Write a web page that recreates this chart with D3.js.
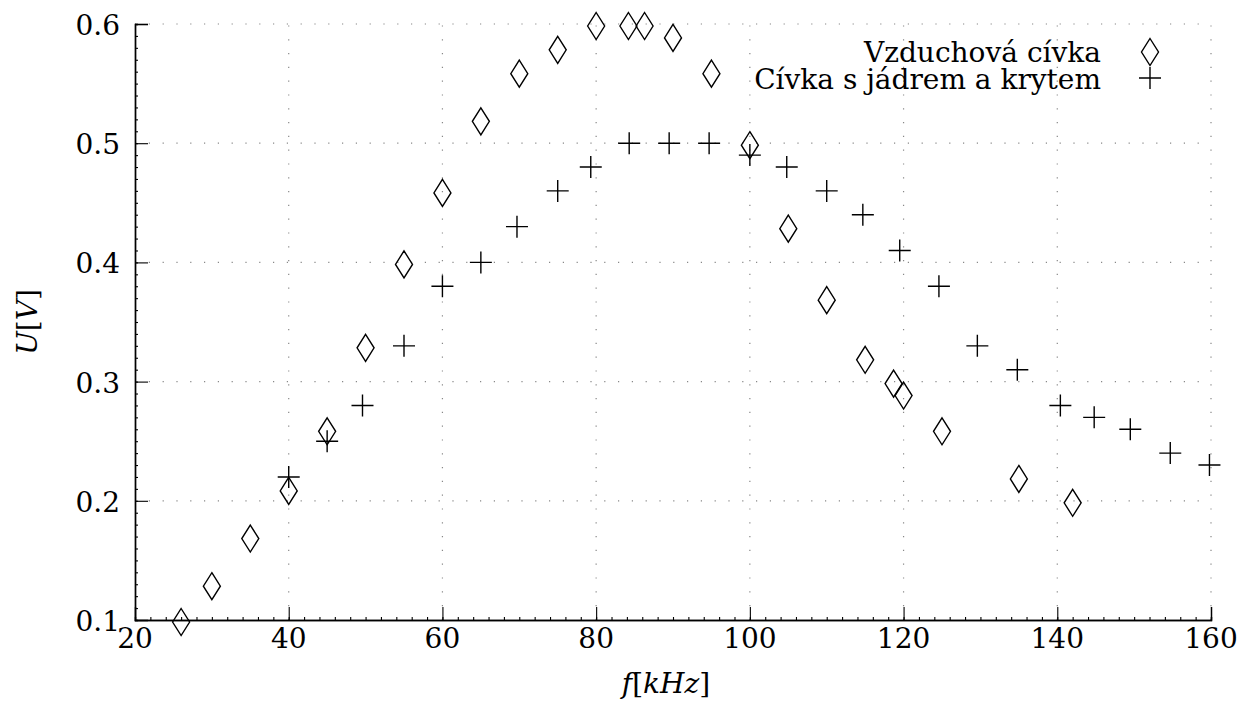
<!DOCTYPE html>
<html>
<head>
<meta charset="utf-8">
<script src="https://cdnjs.cloudflare.com/ajax/libs/d3/7.8.5/d3.min.js"></script>
<style>
    body { margin: 0; background: white; }
</style>
</head>
<body>
<script>
// data
const air_coil_f = [26, 30, 35, 40, 45, 50, 55, 60, 65, 70, 75, 80, 84.2, 86.3, 90, 95, 100, 105, 110, 115, 118.7, 120, 125, 135, 142]
const air_coil_u = [0.10, 0.13, 0.17, 0.21, 0.26, 0.33, 0.40, 0.46, 0.52, 0.56, 0.58, 0.60, 0.60, 0.60, 0.59, 0.56, 0.50, 0.43, 0.37, 0.32, 0.30, 0.29, 0.26, 0.22, 0.20]
const core_coil_f = [40, 45, 49.6, 55, 60, 65, 69.7, 75, 79.3, 84.3, 89.5, 94.7, 100, 104.8, 110, 114.7, 119.5, 124.6, 129.6, 134.8, 140.4, 144.8, 149.5, 154.7, 159.8]
const core_coil_u = [0.22, 0.25, 0.28, 0.33, 0.38, 0.40, 0.43, 0.46, 0.48, 0.50, 0.50, 0.50, 0.49, 0.48, 0.46, 0.44, 0.41, 0.38, 0.33, 0.31, 0.28, 0.27, 0.26, 0.24, 0.23]
const series_names = ['Vzduchová cívka', 'Cívka s jádrem a krytem']
const x_ticks = [20, 40, 60, 80, 100, 120, 140, 160]
const y_ticks = [0.1, 0.2, 0.3, 0.4, 0.5, 0.6]

// global objects
const svg_dimensions = [0, 0, 1239, 703]
const plot = {'left': 135, 'right': 1211, 'top': 24, 'bottom': 620}
const font = "'DejaVu Serif', serif"
const font_size = '28px'
const diamond_path = 'M0,-11.5 L8.5,2 L0,15.5 L-8.5,2 Z'
const cross_path = 'M-11,0 H11 M0,-11 V11'

const x = d3.scaleLinear().domain([20, 160]).range([plot.left, plot.right])
const y = d3.scaleLinear().domain([0.1, 0.6]).range([plot.bottom, plot.top])

const svg = d3.select('body')
    .append('svg')
        .attr('width', svg_dimensions[2])
        .attr('height', svg_dimensions[3])

// dotted grid
const grid = svg.append('g')
    .style('stroke', '#888888')
    .style('stroke-width', 1.2)
    .style('stroke-dasharray', '1.2,12.6')
grid.selectAll('.vgrid')
    .data(x_ticks.slice(1))
    .enter()
    .append('line')
    .attr('x1', d => x(d)).attr('x2', d => x(d))
    .attr('y1', plot.bottom).attr('y2', plot.top)
grid.selectAll('.hgrid')
    .data(y_ticks.slice(1))
    .enter()
    .append('line')
    .attr('x1', plot.left).attr('x2', plot.right)
    .attr('y1', d => y(d)).attr('y2', d => y(d))

// axes (ticks pointing inward)
const x_axis = svg.append('g')
    .attr('transform', `translate(0,${plot.bottom})`)
    .call(d3.axisTop(x).tickValues(x_ticks).tickSize(13).tickFormat(''))
x_axis.append('g')
    .call(d3.axisTop(x).tickValues(d3.range(20, 161, 2)).tickSize(3).tickFormat(''))
const y_axis = svg.append('g')
    .attr('transform', `translate(${plot.left},0)`)
    .call(d3.axisRight(y).tickValues(y_ticks).tickSize(13).tickFormat(''))
y_axis.append('g')
    .call(d3.axisRight(y).tickValues(d3.range(0.1, 0.6001, 0.01)).tickSize(3).tickFormat(''))
svg.selectAll('.domain').style('stroke', 'black').style('stroke-width', 1.4)
svg.selectAll('.tick line').style('stroke', 'black').style('stroke-width', 1.1)
x_axis.selectAll('.tick line').filter(d => d === 20).remove()
y_axis.selectAll('.tick line').filter(d => d <= 0.1001).remove()

// tick labels
svg.selectAll('.xlabel')
    .data(x_ticks)
    .enter()
    .append('text')
    .text(d => d)
    .attr('x', d => x(d))
    .attr('y', 648)
    .attr('text-anchor', 'middle')
    .style('font-family', font)
    .style('font-size', font_size)
svg.selectAll('.ylabel')
    .data(y_ticks)
    .enter()
    .append('text')
    .text(d => d3.format('.1f')(d))
    .attr('x', 120)
    .attr('y', d => y(d) + 11)
    .attr('text-anchor', 'end')
    .style('font-family', font)
    .style('font-size', font_size)

// axis titles
const x_title = svg.append('text')
    .attr('x', 666)
    .attr('y', 693)
    .attr('text-anchor', 'middle')
    .style('font-family', font)
    .style('font-size', font_size)
x_title.append('tspan').text('f').style('font-style', 'italic')
x_title.append('tspan').text('[')
x_title.append('tspan').text('kHz').style('font-style', 'italic')
x_title.append('tspan').text(']')

const y_title = svg.append('text')
    .attr('transform', 'translate(37,322) rotate(-90)')
    .attr('text-anchor', 'middle')
    .style('font-family', font)
    .style('font-size', font_size)
y_title.append('tspan').text('U').style('font-style', 'italic')
y_title.append('tspan').text('[')
y_title.append('tspan').text('V').style('font-style', 'italic')
y_title.append('tspan').text(']')

// points
const marks = svg.append('g')
    .style('fill', 'none')
    .style('stroke', 'black')
    .style('stroke-width', 1.4)
marks.selectAll('.air')
    .data(air_coil_f)
    .enter()
    .append('path')
    .attr('d', diamond_path)
    .attr('transform', (d, i) => `translate(${x(d)},${y(air_coil_u[i])})`)
marks.selectAll('.core')
    .data(core_coil_f)
    .enter()
    .append('path')
    .attr('d', cross_path)
    .attr('transform', (d, i) => `translate(${x(d)},${y(core_coil_u[i])})`)

// legend
const legend = svg.append('g')
legend.selectAll('text')
    .data(series_names)
    .enter()
    .append('text')
    .text(d => d)
    .attr('x', 1101)
    .attr('y', (_, i) => 62 + i * 27)
    .attr('text-anchor', 'end')
    .style('font-family', font)
    .style('font-size', font_size)
legend.selectAll('path')
    .data([diamond_path, cross_path])
    .enter()
    .append('path')
    .attr('d', d => d)
    .attr('transform', (_, i) => `translate(1150,${50 + i * 28})`)
    .style('fill', 'none')
    .style('stroke', 'black')
    .style('stroke-width', 1.4)
</script>
</body>
</html>
